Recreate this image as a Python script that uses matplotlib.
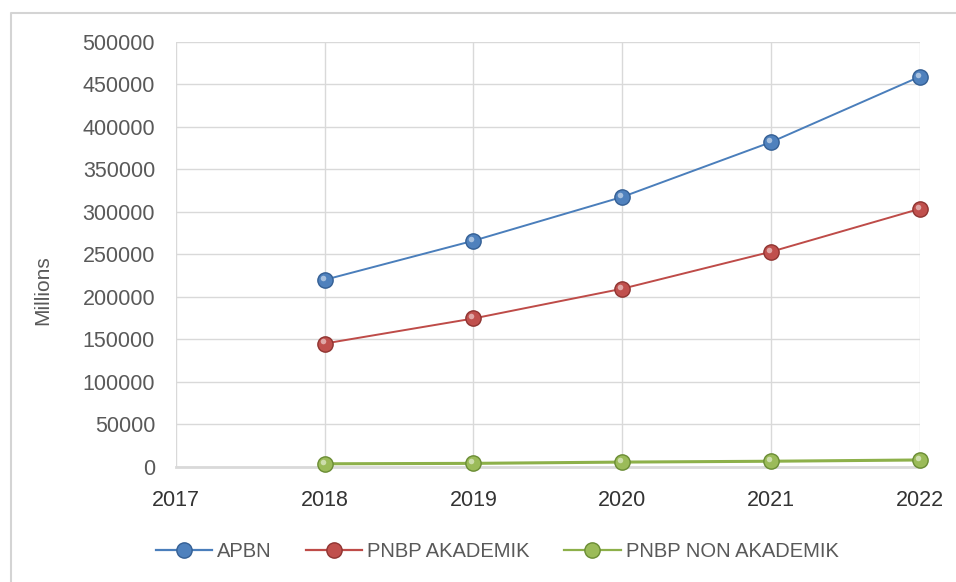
import numpy as np
import matplotlib.pyplot as plt
from matplotlib.lines import Line2D
from matplotlib.transforms import offset_copy

#data
years = [2018, 2019, 2020, 2021, 2022]
apbn = [220000, 266000, 317500, 382000, 459000]
pnbp_akademik = [145000, 174500, 209500, 253000, 303500]
pnbp_non_akademik = [3500, 4000, 5500, 6500, 8000]
series_names = ["APBN", "PNBP AKADEMIK", "PNBP NON AKADEMIK"]

plt.rcParams["font.family"] = ["Liberation Sans", "DejaVu Sans"]

fig = plt.figure(figsize=(9.56, 5.82), dpi=100)
ax = fig.add_axes([0.184, 0.198, 0.778, 0.730])

#outer chart border - only the top and left edges show in the reference
fig.add_artist(Line2D([11 / 956, 11 / 956, 1.0], [0.0, 1 - 13 / 582, 1 - 13 / 582],
                      transform=fig.transFigure, color="#d4d4d4", linewidth=1.5))

line_cols = ["#4a7ebb", "#be4b48", "#8db04a"]
marker_cols = ["#4f81bd", "#c0504d", "#9bbb59"]
edge_cols = ["#345f94", "#8f3431", "#6a8c34"]
all_data = [apbn, pnbp_akademik, pnbp_non_akademik]

hl = offset_copy(ax.transData, fig=fig, x=-1.5, y=1.5, units="points")

for i, vals in enumerate(all_data):
    lw = 2.2 if i == 2 else 1.4
    ax.plot(years, vals, color=line_cols[i], linewidth=lw, zorder=3, clip_on=False)
    ax.plot(years, vals, linestyle="none", marker="o", markersize=11,
            markerfacecolor=marker_cols[i], markeredgecolor=edge_cols[i], markeredgewidth=1.0,
            zorder=4, clip_on=False)
    #small highlight to fake the glossy sphere look
    ax.plot(years, vals, linestyle="none", marker="o", markersize=4, transform=hl,
            markerfacecolor="white", markeredgecolor="none", alpha=0.5, zorder=5, clip_on=False)

ax.set_xlim(2017, 2022)
ax.set_ylim(0, 500000)
ax.set_xticks([2017, 2018, 2019, 2020, 2021, 2022])
ax.set_yticks(np.arange(0, 500001, 50000))
ax.grid(True, color="#d9d9d9", linewidth=1.0)
ax.set_axisbelow(True)
ax.tick_params(length=0, labelsize=15.5)
ax.tick_params(axis="y", pad=15, colors="#595959")
ax.tick_params(axis="x", pad=17, colors="#333333")

for s in ["top", "right", "left"]:
    ax.spines[s].set_visible(False)
ax.spines["bottom"].set_color("#d9d9d9")
ax.spines["bottom"].set_linewidth(2)

ax.set_ylabel("Millions", fontsize=15, color="#595959")
ax.yaxis.set_label_coords(-0.166, 0.416)

handles = []
for i in range(3):
    handles.append(Line2D([0], [0], color=line_cols[i], linewidth=1.6, marker="o", markersize=11,
                          markerfacecolor=marker_cols[i], markeredgecolor=edge_cols[i]))
fig.legend(handles, series_names, loc="center", bbox_to_anchor=(0.52, 0.053), ncol=3,
           frameon=False, fontsize=14.5, labelcolor="#595959", handlelength=2.8,
           handletextpad=0.25, columnspacing=1.7)

plt.savefig("out.png", dpi=100)
plt.close()
